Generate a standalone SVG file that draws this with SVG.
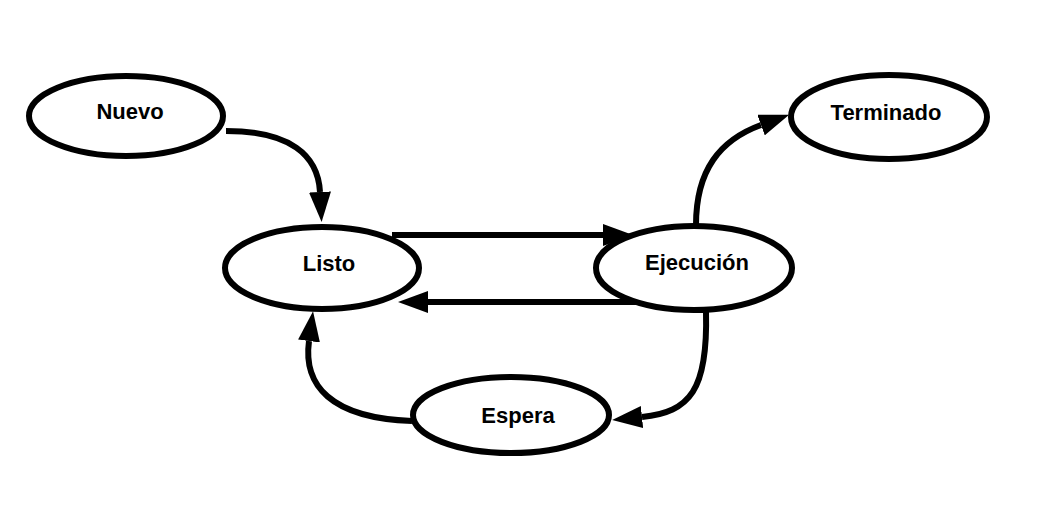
<svg xmlns="http://www.w3.org/2000/svg" width="1059" height="510" viewBox="0 0 1059 510">
<style>
.node ellipse{fill:#fff;stroke:#000;stroke-width:6}
.node text{font-family:"Liberation Sans",Arial,sans-serif;font-weight:bold;font-size:22px;fill:#000;text-anchor:middle}
.edge{fill:none;stroke:#000;stroke-width:6;marker-end:url(#ah)}
</style>
<defs>
<marker id="ah" viewBox="0 -11 30 22" markerWidth="30" markerHeight="22" refX="0" refY="0" markerUnits="userSpaceOnUse" orient="auto">
<path d="M0,-11 L30,0 L0,11 z" fill="#000"/>
</marker>
</defs>
<rect width="1059" height="510" fill="#fff"/>
<g id="connectors">
<path class="edge" d="M226 131 C290 131, 318 155, 320 192"/>
<path class="edge" d="M392 235 L603 235"/>
<path class="edge" d="M638 302 L428 302"/>
<path class="edge" d="M706 312 C708 390, 690 412, 642 417"/>
<path class="edge" d="M412 421 C330 418, 303 385, 309 341"/>
<path class="edge" d="M696 225 C696 170, 720 140, 761 125"/>
</g>
<g id="nuevo" class="node"><ellipse cx="126" cy="116" rx="97" ry="40"/><text x="130" y="119">Nuevo</text></g>
<g id="listo" class="node"><ellipse cx="322" cy="268" rx="97" ry="41"/><text x="329" y="271">Listo</text></g>
<g id="ejecucion" class="node"><ellipse cx="694" cy="268" rx="98" ry="42"/><text x="697" y="270">Ejecución</text></g>
<g id="terminado" class="node"><ellipse cx="889" cy="117" rx="98" ry="42"/><text x="886" y="120">Terminado</text></g>
<g id="espera" class="node"><ellipse cx="511" cy="415" rx="98" ry="38"/><text x="518" y="423">Espera</text></g>
</svg>
